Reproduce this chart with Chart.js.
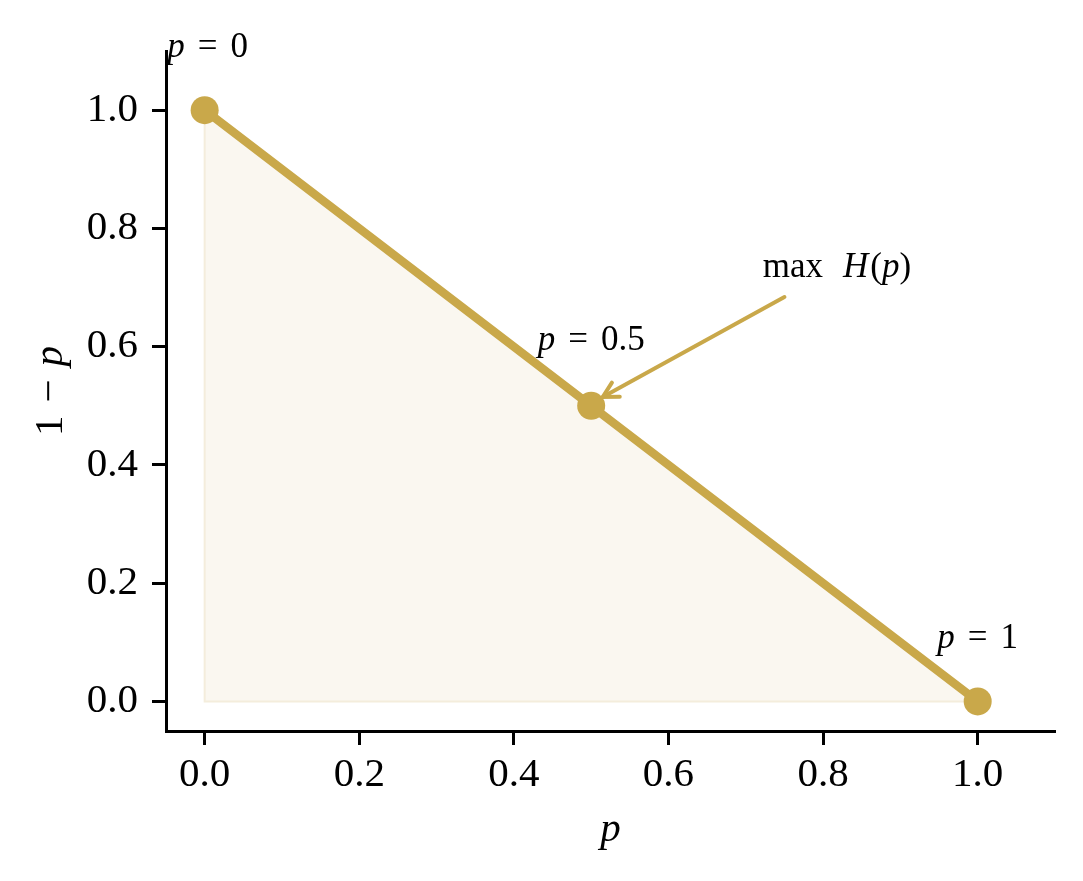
<!DOCTYPE html>
<html>
<head>
<meta charset="utf-8">
<script src="https://cdn.jsdelivr.net/npm/chart.js@4.4.1/dist/chart.umd.min.js"></script>
<style>
  html, body { margin: 0; padding: 0; background: #fff; }
  #wrap { width: 1083px; height: 881px; }
</style>
</head>
<body>
<div id="wrap"><canvas id="c" width="1083" height="881"></canvas></div>
<script>
// ---- data ----
const xTicks = [0.0, 0.2, 0.4, 0.6, 0.8, 1.0];
const yTicks = [0.0, 0.2, 0.4, 0.6, 0.8, 1.0];
const pValues = [0, 0.5, 1];
const qValues = [1, 0.5, 0];           // 1 - p
const labelNums = ['0', '0.5', '1'];   // "p = ..." labels
const labelX = [0.004, 0.5, 1.0];
const labelY = [1.09, 0.595, 0.091];
const maxLabelText = 'max';
const maxLabelPos = [0.818, 0.718];
const arrowFrom = [0.75, 0.684];
const arrowTo = [0.515, 0.515];
const xRange = [-0.05, 1.1];
const yRange = [-0.05, 1.1];

const GOLD = '#c9a84a';
const FONT = '"Liberation Serif", "DejaVu Serif", serif';

const mainPts = pValues.map((p, i) => ({ x: p, y: qValues[i] }));
const fillPts = [mainPts[0], mainPts[2]];
const edgePts = [{ x: pValues[2], y: qValues[2] }, { x: pValues[0], y: qValues[2] }, { x: pValues[0], y: qValues[0] }];

function drawSegments(ctx, segs, x, y, align, size) {
  const widths = segs.map(s => {
    if (s.gap) return s.gap;
    ctx.font = (s.italic ? 'italic ' : '') + size + 'px ' + FONT;
    return ctx.measureText(s.t).width;
  });
  const total = widths.reduce((a, b) => a + b, 0);
  let cx = align === 'center' ? x - total / 2 : x;
  ctx.textAlign = 'left';
  ctx.textBaseline = 'alphabetic';
  ctx.fillStyle = '#000';
  segs.forEach((s, i) => {
    if (!s.gap) {
      ctx.font = (s.italic ? 'italic ' : '') + size + 'px ' + FONT;
      ctx.fillText(s.t, cx, y);
    }
    cx += widths[i];
  });
}

const annotPlugin = {
  id: 'annot',
  afterDatasetsDraw(chart) {
    const ctx = chart.ctx;
    const xs = chart.scales.x, ys = chart.scales.y;
    const x0 = xs.getPixelForValue(arrowFrom[0]), y0 = ys.getPixelForValue(arrowFrom[1]);
    const x1 = xs.getPixelForValue(arrowTo[0]), y1 = ys.getPixelForValue(arrowTo[1]);
    ctx.save();
    ctx.strokeStyle = GOLD;
    ctx.lineWidth = 4;
    ctx.lineCap = 'round';
    ctx.beginPath();
    ctx.moveTo(x0, y0);
    ctx.lineTo(x1, y1);
    ctx.stroke();
    const ang = Math.atan2(y0 - y1, x0 - x1);
    const hl = 17, ha = 0.5;
    ctx.beginPath();
    ctx.moveTo(x1 + hl * Math.cos(ang + ha), y1 + hl * Math.sin(ang + ha));
    ctx.lineTo(x1, y1);
    ctx.lineTo(x1 + hl * Math.cos(ang - ha), y1 + hl * Math.sin(ang - ha));
    ctx.stroke();
    ctx.restore();
  },
  afterDraw(chart) {
    const ctx = chart.ctx;
    const xs = chart.scales.x, ys = chart.scales.y;
    const ca = chart.chartArea;
    ctx.save();
    labelNums.forEach((n, i) => {
      drawSegments(ctx, [{ t: 'p', italic: true }, { gap: 13 }, { t: '=' }, { gap: 13 }, { t: n }],
        xs.getPixelForValue(labelX[i]), ys.getPixelForValue(labelY[i]), 'center', 35);
    });
    drawSegments(ctx, [{ t: maxLabelText }, { gap: 20 }, { t: 'H', italic: true }, { gap: 2 }, { t: '(' }, { t: 'p', italic: true }, { t: ')' }],
      xs.getPixelForValue(maxLabelPos[0]), ys.getPixelForValue(maxLabelPos[1]), 'center', 35);
    drawSegments(ctx, [{ t: 'p', italic: true }], (ca.left + ca.right) / 2, ca.bottom + 110, 'center', 41);
    ctx.save();
    ctx.translate(ca.left - 104, (ca.top + ca.bottom) / 2);
    ctx.rotate(-Math.PI / 2);
    drawSegments(ctx, [{ t: '1' }, { gap: 13 }, { t: '\u2212' }, { gap: 13 }, { t: 'p', italic: true }], 0, 0, 'center', 41);
    ctx.restore();
    ctx.restore();
  }
};

const axisCommon = {
  type: 'linear',
  grid: { display: true, drawOnChartArea: false, drawTicks: true, tickLength: 14, tickWidth: 3, color: '#000' },
  border: { display: true, width: 3, color: '#000' },
};

new Chart(document.getElementById('c'), {
  type: 'scatter',
  data: {
    datasets: [
      { data: mainPts, showLine: true, borderColor: GOLD, borderWidth: 8.5, pointRadius: 14, pointHoverRadius: 14,
        pointBackgroundColor: GOLD, pointBorderWidth: 0, fill: false, order: 0 },
      { data: edgePts, showLine: true, borderColor: '#f4eddc', borderWidth: 2, pointRadius: 0, fill: false, order: 1 },
      { data: fillPts, showLine: true, borderWidth: 0, borderColor: 'rgba(0,0,0,0)', backgroundColor: '#faf7f0',
        pointRadius: 0, fill: 'origin', order: 2 }
    ]
  },
  options: {
    responsive: false,
    animation: false,
    devicePixelRatio: 1,
    layout: { padding: { left: 0, top: 51, right: 28, bottom: 0 } },
    plugins: { legend: { display: false }, tooltip: { enabled: false } },
    scales: {
      x: Object.assign({}, axisCommon, {
        position: 'bottom',
        min: xRange[0], max: xRange[1],
        afterBuildTicks(s) { s.ticks = xTicks.map(v => ({ value: v })); },
        afterFit(s) { s.height = 150; },
        ticks: { font: { family: FONT, size: 41 }, color: '#000', padding: 6, maxRotation: 0,
          callback: v => Number(v).toFixed(1) }
      }),
      y: Object.assign({}, axisCommon, {
        position: 'left',
        min: yRange[0], max: yRange[1],
        afterBuildTicks(s) { s.ticks = yTicks.map(v => ({ value: v })); },
        afterFit(s) { s.width = 166; },
        ticks: { font: { family: FONT, size: 41 }, color: '#000', padding: 14,
          callback: v => Number(v).toFixed(1) }
      })
    }
  },
  plugins: [annotPlugin]
});
</script>
</body>
</html>
